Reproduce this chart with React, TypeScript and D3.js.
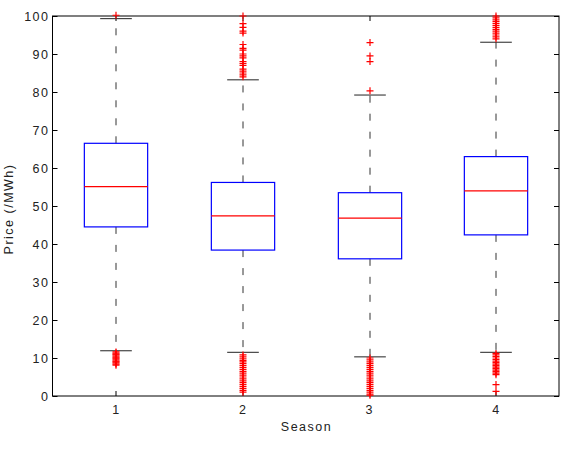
import { useEffect, useRef } from "react";
import * as d3 from "d3";

// Seasonal price distribution (boxplot summary statistics)
const seasons = ["1", "2", "3", "4"];
const lowerWhisker = [11.9, 11.5, 10.3, 11.5];
const q1 = [44.5, 38.4, 36.1, 42.4];
const median = [55.1, 47.4, 46.8, 54.0];
const q3 = [66.5, 56.2, 53.5, 63.0];
const upperWhisker = [99.3, 83.2, 79.2, 93.1];

const outliers1 = [100.2, 11.6, 11.3, 11, 10.8, 10.5, 10.2, 10, 9.8, 9.5, 9.2, 9, 8.7, 8.4, 8.1];
const outliers2 = [
  100, 98, 97, 96, 95.5, 92.5, 91.5, 91, 90, 89.5, 89, 88, 87.5, 87, 86, 85.5, 85, 84.5, 84,
  10.8, 10.3, 9.8, 9.4, 9, 8.5, 8, 7.5, 7, 6.5, 6, 5.5, 5, 4.5, 4, 3.5, 3, 2.5, 2, 1.5, 1,
];
const outliers3 = [
  93, 89.5, 88, 80.3,
  10, 9.5, 9, 8.5, 8, 7.5, 7, 6.5, 6, 5.5, 5, 4.5, 4, 3.5, 3, 2.5, 2, 1.5, 1, 0.5, 0.2,
];
const outliers4 = [
  100, 99.5, 99, 98.5, 98, 97.5, 97, 96.5, 96, 95.5, 95, 94.5, 94,
  11.2, 10.8, 10.4, 10, 9.6, 9.2, 8.8, 8.4, 8, 7.6, 7.2, 6.8, 6.4, 6, 5.6, 3, 1.2,
];
const outliers = [outliers1, outliers2, outliers3, outliers4];

const yTicks = [0, 10, 20, 30, 40, 50, 60, 70, 80, 90, 100];

export default function App() {
  const svgRef = useRef<SVGSVGElement>(null);

  useEffect(() => {
    if (!svgRef.current) return;
    const svg = d3.select(svgRef.current);
    svg.selectAll("*").remove();

    const W = 565;
    const H = 458;
    const margin = { top: 16, right: 6, bottom: 62, left: 52.5 };
    const width = W - margin.left - margin.right;
    const height = H - margin.top - margin.bottom;
    const font = "'Liberation Sans', Arial, sans-serif";
    const fontSize = 12.5;
    const spacing = 1.5;

    const g = svg.append("g").attr("transform", `translate(${margin.left},${margin.top})`);

    // positions 1..4 with half-unit padding, like xlim [0.5, 4.5]
    const x = d3.scaleLinear().domain([0.5, 4.5]).range([0, width]);
    const y = d3.scaleLinear().domain([0, 100]).range([height, 0]);
    const unit = x(2) - x(1);
    const boxW = unit * 0.5;
    const capW = boxW * 0.5;

    const label = (sel: d3.Selection<SVGTextElement, unknown, null, undefined>) =>
      sel
        .attr("font-family", font)
        .attr("font-size", fontSize)
        .attr("letter-spacing", spacing)
        .attr("fill", "#222");

    // frame
    g.append("rect")
      .attr("width", width)
      .attr("height", height)
      .attr("fill", "#fff")
      .attr("stroke", "#000")
      .attr("stroke-width", 1);

    // y ticks (inward, both sides) and labels
    yTicks.forEach((t) => {
      const yy = Math.round(y(t)) + 0.5;
      g.append("line").attr("x1", 0).attr("x2", 5).attr("y1", yy).attr("y2", yy).attr("stroke", "#000");
      g.append("line").attr("x1", width - 5).attr("x2", width).attr("y1", yy).attr("y2", yy).attr("stroke", "#000");
      g.append("text")
        .attr("x", -3)
        .attr("y", y(t))
        .attr("dy", "0.36em")
        .attr("text-anchor", "end")
        .call(label)
        .text(t);
    });

    // x ticks (inward, top and bottom) and labels
    seasons.forEach((s, i) => {
      const xx = Math.round(x(i + 1)) + 0.5;
      g.append("line").attr("x1", xx).attr("x2", xx).attr("y1", height).attr("y2", height - 5).attr("stroke", "#000");
      g.append("line").attr("x1", xx).attr("x2", xx).attr("y1", 0).attr("y2", 5).attr("stroke", "#000");
      g.append("text")
        .attr("x", x(i + 1) + spacing / 2)
        .attr("y", height + 18)
        .attr("text-anchor", "middle")
        .call(label)
        .text(s);
    });

    // boxes
    seasons.forEach((_, i) => {
      const cx = Math.round(x(i + 1)) + 0.5;
      const bg = g.append("g");

      // whiskers
      bg.append("line")
        .attr("x1", cx).attr("x2", cx)
        .attr("y1", y(q3[i])).attr("y2", y(upperWhisker[i]))
        .attr("stroke", "#333").attr("stroke-dasharray", "7,11");
      bg.append("line")
        .attr("x1", cx).attr("x2", cx)
        .attr("y1", y(q1[i])).attr("y2", y(lowerWhisker[i]))
        .attr("stroke", "#333").attr("stroke-dasharray", "7,11");

      // caps
      [upperWhisker[i], lowerWhisker[i]].forEach((v) => {
        bg.append("line")
          .attr("x1", cx - capW / 2).attr("x2", cx + capW / 2)
          .attr("y1", y(v)).attr("y2", y(v))
          .attr("stroke", "#222");
      });

      // box
      bg.append("rect")
        .attr("x", cx - boxW / 2)
        .attr("y", y(q3[i]))
        .attr("width", boxW)
        .attr("height", y(q1[i]) - y(q3[i]))
        .attr("fill", "none")
        .attr("stroke", "#0000ff")
        .attr("stroke-width", 1.2);

      // median
      bg.append("line")
        .attr("x1", cx - boxW / 2).attr("x2", cx + boxW / 2)
        .attr("y1", y(median[i])).attr("y2", y(median[i]))
        .attr("stroke", "#ff0000")
        .attr("stroke-width", 1.2);

      // outliers as '+' markers
      const r = 3.5;
      bg.selectAll("path.out")
        .data(outliers[i])
        .enter()
        .append("path")
        .attr("class", "out")
        .attr("d", (d) => {
          const py = y(d);
          return `M${cx - r},${py}H${cx + r}M${cx},${py - r}V${py + r}`;
        })
        .attr("stroke", "#ff0000")
        .attr("stroke-width", 1.2)
        .attr("fill", "none");
    });

    // axis titles
    g.append("text")
      .attr("x", width / 2 + spacing / 2)
      .attr("y", height + 35)
      .attr("text-anchor", "middle")
      .call(label)
      .text("Season");

    g.append("text")
      .attr("transform", `translate(${-39.5},${height / 2 + 3}) rotate(-90)`)
      .attr("text-anchor", "middle")
      .call(label)
      .text("Price (/MWh)");
  }, []);

  return (
    <div style={{ position: "fixed", left: 0, top: 0, width: 565, height: 458, background: "#fff" }}>
      <svg ref={svgRef} width={565} height={458} style={{ display: "block" }} />
    </div>
  );
}
